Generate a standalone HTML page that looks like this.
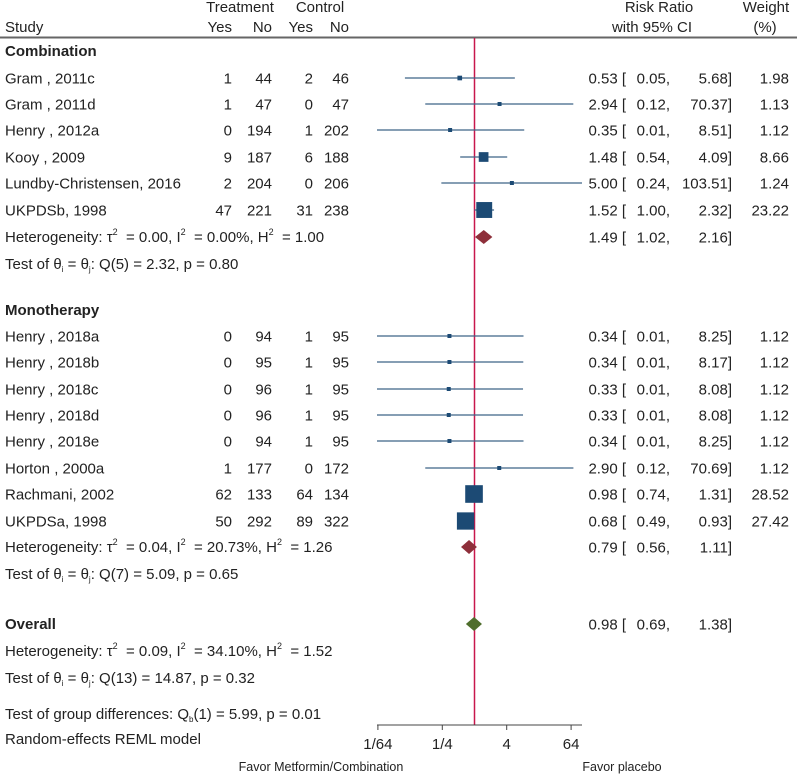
<!DOCTYPE html>
<html><head><meta charset="utf-8"><style>
html,body{margin:0;padding:0;background:#fff;}
svg{display:block;font-family:"Liberation Sans",Arial,sans-serif;font-size:15px;fill:#222;}
.b{font-weight:bold;}
</style></head><body>
<svg id="chart" width="797" height="775" viewBox="0 0 797 775" xmlns="http://www.w3.org/2000/svg">
<g>
<text x="5" y="32">Study</text>
<text x="240" y="12" text-anchor="middle">Treatment</text>
<text x="320" y="12" text-anchor="middle">Control</text>
<text x="232" y="32" text-anchor="end">Yes</text>
<text x="272" y="32" text-anchor="end">No</text>
<text x="313" y="32" text-anchor="end">Yes</text>
<text x="349" y="32" text-anchor="end">No</text>
<text x="659" y="12" text-anchor="middle">Risk Ratio</text>
<text x="652" y="32" text-anchor="middle">with 95% CI</text>
<text x="766" y="12" text-anchor="middle">Weight</text>
<text x="765" y="32" text-anchor="middle">(%)</text>
</g>
<line x1="0" y1="37.5" x2="797" y2="37.5" stroke="#666" stroke-width="2"/>
<g id="marks"></g>
<g id="texts"></g>
</svg>
<script>
const studies = ["Gram , 2011c","Gram , 2011d","Henry , 2012a","Kooy , 2009","Lundby-Christensen, 2016","UKPDSb, 1998",
 "Henry , 2018a","Henry , 2018b","Henry , 2018c","Henry , 2018d","Henry , 2018e","Horton , 2000a","Rachmani, 2002","UKPDSa, 1998"];
const rowY = [78,104,130,157,183,210, 336,362,389,415,441,468,494,521];
const treatYes = [1,1,0,9,2,47, 0,0,0,0,0,1,62,50];
const treatNo = [44,47,194,187,204,221, 94,95,96,96,94,177,133,292];
const ctrlYes = [2,0,1,6,0,31, 1,1,1,1,1,0,64,89];
const ctrlNo = [46,47,202,188,206,238, 95,95,95,95,95,172,134,322];
const rr = [0.53,2.94,0.35,1.48,5.00,1.52, 0.34,0.34,0.33,0.33,0.34,2.90,0.98,0.68];
const lo = [0.05,0.12,0.01,0.54,0.24,1.00, 0.01,0.01,0.01,0.01,0.01,0.12,0.74,0.49];
const hi = [5.68,70.37,8.51,4.09,103.51,2.32, 8.25,8.17,8.08,8.08,8.25,70.69,1.31,0.93];
const weight = [1.98,1.13,1.12,8.66,1.24,23.22, 1.12,1.12,1.12,1.12,1.12,1.12,28.52,27.42];
const sumNames = ["combination","monotherapy","overall"];
const sumY = [237,547,624];
const sumRR = [1.49,0.79,0.98];
const sumLo = [1.02,0.56,0.69];
const sumHi = [2.16,1.11,1.38];
const sumColor = ["#8e2f3a","#8e2f3a","#4f6e2c"];
const tickVals = [1/64,1/4,4,64];
const tickLabels = ["1/64","1/4","4","64"];

const NS="http://www.w3.org/2000/svg";
const X0=474.5, PX=16.1, AXY=725, XMIN=377, XMAX=582;
function xs(v){return X0+Math.log2(v)*PX;}
function clampX(x){return Math.max(XMIN,Math.min(XMAX,x));}
const marks=document.getElementById('marks'), texts=document.getElementById('texts');
function el(tag,attrs,parent){const e=document.createElementNS(NS,tag);for(const k in attrs)e.setAttribute(k,attrs[k]);parent.appendChild(e);return e;}
function txt(s,x,y,anchor,parent,cls){const t=el('text',{x:x,y:y},parent);if(anchor)t.setAttribute('text-anchor',anchor);if(cls)t.setAttribute('class',cls);t.textContent=s;return t;}
const f2=v=>v.toFixed(2);

const nl=el('line',{x1:X0,y1:38,x2:X0,y2:AXY,stroke:"#c8174c","stroke-width":1.5},marks);



for(let i=0;i<studies.length;i++){
  const y=rowY[i];
  const g=el('g',{},marks);
  
  
  el('line',{x1:clampX(xs(lo[i])),x2:clampX(xs(hi[i])),y1:y,y2:y,stroke:"#3e6487","stroke-width":1.2},g);
  const s=Math.max(4,3.3*Math.sqrt(weight[i]));
  el('rect',{x:xs(rr[i])-s/2,y:y-s/2,width:s,height:s,fill:"#1c4a74"},g);
  const tg=el('g',{},texts);
  
  
  txt(studies[i],5,y+5.5,null,tg);
  txt(String(treatYes[i]),232,y+5.5,'end',tg);
  txt(String(treatNo[i]),272,y+5.5,'end',tg);
  txt(String(ctrlYes[i]),313,y+5.5,'end',tg);
  txt(String(ctrlNo[i]),349,y+5.5,'end',tg);
  txt(f2(rr[i])+" [",626,y+5.5,'end',tg);
  txt(f2(lo[i])+",",670,y+5.5,'end',tg);
  txt(f2(hi[i])+"]",732,y+5.5,'end',tg);
  txt(f2(weight[i]),789,y+5.5,'end',tg);
}
for(let j=0;j<sumY.length;j++){
  const y=sumY[j];
  const d=el('polygon',{points:[xs(sumLo[j])+","+y, xs(sumRR[j])+","+(y-7), xs(sumHi[j])+","+y, xs(sumRR[j])+","+(y+7)].join(" "),fill:sumColor[j]},marks);
  
  
  const tg=el('g',{},texts);
  
  
  txt(f2(sumRR[j])+" [",626,y+5.5,'end',tg);
  txt(f2(sumLo[j])+",",670,y+5.5,'end',tg);
  txt(f2(sumHi[j])+"]",732,y+5.5,'end',tg);
}
const ax=el('g',{},marks);


el('line',{x1:XMIN,x2:XMAX,y1:AXY,y2:AXY,stroke:"#444","stroke-width":1},ax);
for(let k=0;k<tickVals.length;k++){
  const x=xs(tickVals[k]);
  el('line',{x1:x,x2:x,y1:AXY,y2:AXY+5,stroke:"#444","stroke-width":1},ax);
  const t=txt(tickLabels[k],x,749,'middle',ax);
  
  
}
</script>
<script>
(function(){
const NS="http://www.w3.org/2000/svg";
const svg=document.getElementById('chart');
const sup=(s)=>"<tspan dy='-7' font-size='9'>"+s+"</tspan><tspan dy='7'>";
const lines=[
 ["Combination",56,"b","group-title-combination"],
 ["Heterogeneity: τ"+sup("2")+"  = 0.00, I</tspan>"+sup("2")+"  = 0.00%, H</tspan>"+sup("2")+"  = 1.00</tspan>",242,"","heterogeneity-combination"],
 ["Test of θ<tspan font-size='8' dy='3'>i</tspan><tspan dy='-3'> = θ</tspan><tspan font-size='8' dy='3'>j</tspan><tspan dy='-3'>: Q(5) = 2.32, p = 0.80</tspan>",269,"","test-combination"],
 ["Monotherapy",315,"b","group-title-monotherapy"],
 ["Heterogeneity: τ"+sup("2")+"  = 0.04, I</tspan>"+sup("2")+"  = 20.73%, H</tspan>"+sup("2")+"  = 1.26</tspan>",552,"","heterogeneity-monotherapy"],
 ["Test of θ<tspan font-size='8' dy='3'>i</tspan><tspan dy='-3'> = θ</tspan><tspan font-size='8' dy='3'>j</tspan><tspan dy='-3'>: Q(7) = 5.09, p = 0.65</tspan>",579,"","test-monotherapy"],
 ["Overall",629,"b","group-title-overall"],
 ["Heterogeneity: τ"+sup("2")+"  = 0.09, I</tspan>"+sup("2")+"  = 34.10%, H</tspan>"+sup("2")+"  = 1.52</tspan>",656,"","heterogeneity-overall"],
 ["Test of θ<tspan font-size='8' dy='3'>i</tspan><tspan dy='-3'> = θ</tspan><tspan font-size='8' dy='3'>j</tspan><tspan dy='-3'>: Q(13) = 14.87, p = 0.32</tspan>",683,"","test-overall"],
 ["Test of group differences: Q<tspan font-size='8' dy='3'>b</tspan><tspan dy='-3'>(1) = 5.99, p = 0.01</tspan>",719,"","test-group-differences"],
 ["Random-effects REML model",744,"","model-note"]
];
for(const l of lines){
  const t=document.createElementNS(NS,'text');
  t.setAttribute('x',5);t.setAttribute('y',l[1]);
  t.setAttribute('xml:space','preserve');
  t.setAttribute('style','white-space:pre');
  if(l[2])t.setAttribute('class',l[2]);
  
  
  t.innerHTML=l[0];
  svg.appendChild(t);
}
const fa=[["Favor Metformin/Combination",321,"favor-metformin-label"],["Favor placebo",622,"favor-placebo-label"]];
for(const f of fa){
  const t=document.createElementNS(NS,'text');
  t.setAttribute('x',f[1]);t.setAttribute('y',771);t.setAttribute('text-anchor','middle');
  t.setAttribute('font-size','12.5');
  
  
  t.textContent=f[0];
  svg.appendChild(t);
}
})();
</script>
</body></html>
